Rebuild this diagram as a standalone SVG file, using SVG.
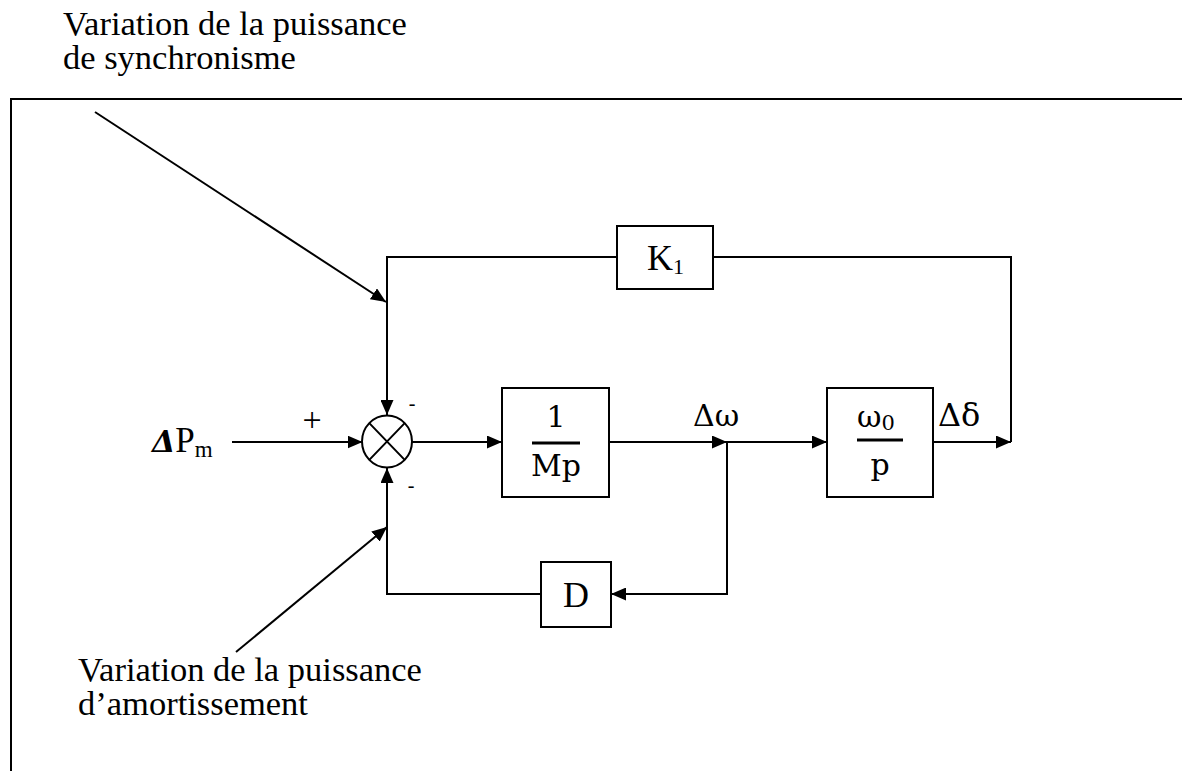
<svg xmlns="http://www.w3.org/2000/svg" width="1182" height="771" viewBox="0 0 1182 771">
<style>
.ln{fill:none;stroke:#000;stroke-width:2}
.box{fill:#fff;stroke:#000;stroke-width:2}
.t{font-family:"Liberation Serif","Times New Roman",serif;fill:#000}
.m{font-family:"DejaVu Serif",serif;fill:#000}
.lab{font-size:34.5px}
.arr{marker-end:url(#ah)}
</style>
<defs>
<marker id="ah" markerUnits="userSpaceOnUse" markerWidth="15" markerHeight="13" refX="15" refY="6.5" orient="auto">
<path d="M0,0 L15,6.5 L0,13 z" fill="#000"/>
</marker>
</defs>
<rect width="1182" height="771" fill="#fff"/>
<path class="ln" d="M11,771 L11,99 L1182,99"/>
<g id="labels">
<text class="t lab" x="63" y="35">Variation de la puissance<tspan x="63" dy="34">de synchronisme</tspan></text>
<text class="t lab" x="78" y="681">Variation de la puissance<tspan x="78" dy="34">d’amortissement</tspan></text>
<text x="152" y="452" font-size="35"><tspan class="m" font-weight="bold" font-style="italic" font-size="30">Δ</tspan><tspan class="t">P</tspan><tspan class="t" font-size="23" dy="5">m</tspan></text>
<text class="t" x="312" y="431" font-size="34" text-anchor="middle">+</text>
<text class="t" x="412" y="410" font-size="20" text-anchor="middle">-</text>
<text class="t" x="411" y="492" font-size="20" text-anchor="middle">-</text>
<text class="m" x="693" y="426" font-size="30">Δω</text>
<text class="m" x="938" y="426" font-size="32">Δδ</text>
</g>
<g id="connectors">
<path class="ln arr" d="M232,442 L362.5,442"/>
<path class="ln arr" d="M95,112 L386,302"/>
<path class="ln arr" d="M236,652 L387,527"/>
<path class="ln" d="M1011,442 L1011,257 L713,257"/>
<path class="ln arr" d="M617,257 L387,257 L387,415"/>
<path class="ln arr" d="M411.5,442 L502,442"/>
<path class="ln arr" d="M609,442 L727,442"/>
<path class="ln arr" d="M727,442 L827,442"/>
<path class="ln arr" d="M933,442 L1011,442"/>
<path class="ln arr" d="M727,442 L727,594 L611,594"/>
<path class="ln arr" d="M541,594 L387,594 L387,468"/>
</g>
<g id="sum">
<ellipse cx="387" cy="441.5" rx="25" ry="26" fill="#fff" stroke="#000" stroke-width="2"/>
<path class="ln" d="M369.3,423.1 L404.7,459.9 M404.7,423.1 L369.3,459.9"/>
</g>
<g id="k1">
<rect class="box" x="617" y="226" width="96" height="63"/>
<text class="t" x="647" y="270" font-size="36">K<tspan font-size="22" dy="4">1</tspan></text>
</g>
<g id="inv-mp">
<rect class="box" x="502" y="388" width="107" height="109"/>
<text class="m" x="556" y="427" font-size="30" text-anchor="middle">1</text>
<line x1="532" y1="443" x2="580" y2="443" stroke="#000" stroke-width="3"/>
<text class="m" x="556" y="476" font-size="30" text-anchor="middle">Mp</text>
</g>
<g id="w0-p">
<rect class="box" x="827" y="388" width="106" height="109"/>
<text class="m" x="857" y="427" font-size="30">ω<tspan font-size="21" dy="3">0</tspan></text>
<line x1="857" y1="440" x2="903" y2="440" stroke="#000" stroke-width="3"/>
<text class="m" x="880" y="475" font-size="30" text-anchor="middle">p</text>
</g>
<g id="d">
<rect class="box" x="541" y="562" width="70" height="65"/>
<text class="t" x="576" y="607" font-size="36" text-anchor="middle">D</text>
</g>
</svg>
